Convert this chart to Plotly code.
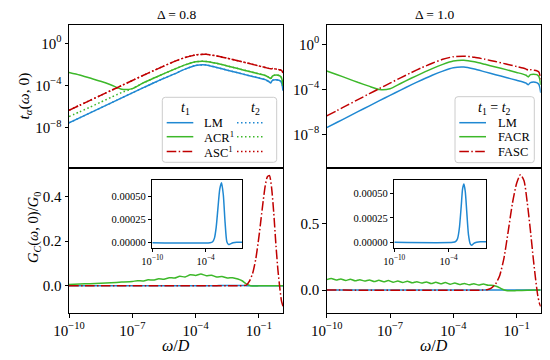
import numpy as np
import plotly.graph_objects as go

# ---------------- data (log10 omega/D on x) ----------------
# top panels: log10 t_alpha(omega,0)
LW_TOP = [-10, -9.5, -9, -8.5, -8, -7.5, -7, -6.5, -6, -5.5, -5, -4.5, -4, -3.5, -3,
          -2.5, -2, -1.5, -1, -0.7, -0.55, -0.45, -0.35, -0.2, -0.05, 0.05, 0.1, 0.14]

# Delta = 0.8
LM_T1_A = [-7.55, -7.07, -6.6, -6.12, -5.65, -5.17, -4.7, -4.23, -3.77, -3.32, -2.9, -2.45, -2.1, -2.05, -2.3,
           -2.55, -2.8, -3.05, -3.3, -3.45, -3.6, -3.75, -3.5, -3.45, -3.5, -3.65, -3.95, -4.5]
LM_T2_A = LM_T1_A
ACR_T1_A = [-2.76, -3.0, -3.3, -3.6, -3.95, -4.35, -4.3, -3.78, -3.32, -2.88, -2.45, -2.05, -1.75, -1.72, -1.9,
            -2.15, -2.4, -2.65, -2.9, -3.05, -3.2, -3.35, -3.1, -3.0, -3.05, -3.2, -3.5, -4.0]
ACR_T2_A = [-6.95, -6.5, -6.05, -5.58, -5.12, -4.66, -4.3, -3.78, -3.32, -2.88, -2.45, -2.05, -1.75, -1.72, -1.9,
            -2.15, -2.4, -2.65, -2.9, -3.05, -3.2, -3.35, -3.1, -3.0, -3.05, -3.2, -3.5, -4.0]
ASC_T1_A = [-6.35, -5.88, -5.41, -4.94, -4.47, -4.0, -3.53, -3.06, -2.6, -2.15, -1.72, -1.35, -1.1, -1.05, -1.2,
            -1.42, -1.65, -1.9, -2.15, -2.3, -2.38, -2.42, -2.4, -2.45, -2.5, -2.55, -2.65, -2.8]
ASC_T2_A = ASC_T1_A

# Delta = 1.0
LM_B = [-7.41, -6.93, -6.45, -5.97, -5.49, -5.01, -4.54, -4.07, -3.61, -3.17, -2.75, -2.38, -2.08, -2.02, -2.2,
        -2.45, -2.7, -2.95, -3.2, -3.35, -3.45, -3.6, -3.4, -3.35, -3.4, -3.55, -3.85, -4.3]
FACR_B = [-2.37, -2.7, -3.05, -3.4, -3.72, -4.02, -3.95, -3.48, -3.02, -2.58, -2.16, -1.78, -1.48, -1.41, -1.55,
          -1.78, -2.02, -2.25, -2.5, -2.65, -2.75, -2.9, -2.7, -2.65, -2.7, -2.85, -3.15, -3.6]
FASC_B = [-6.37, -5.88, -5.39, -4.9, -4.41, -3.93, -3.45, -2.98, -2.52, -2.08, -1.68, -1.33, -1.1, -1.05, -1.15,
          -1.33, -1.53, -1.75, -1.97, -2.1, -2.2, -2.3, -2.25, -2.3, -2.35, -2.45, -2.7, -3.1]

# bottom panels: G_C(omega,0)/G_0
LW_LM_GC_A = [-10, -3.5, -3.2, -3.0, -2.8, -2.6, -2.4, -2.2, -2.0, -1.8, -1.6, -1.4, -1.2, -0.9, -0.5, 0.14]
LM_GC_A = [0, 0, 0.00001, 0.00005, 0.00017, 0.00038, 0.00058, 0.00065, 0.00052, 0.00022, 0.00001, -0.00002,
           -0.000012, 0.0, 0.000006, 0.000006]
LW_ACR_GC_A = [-10, -9.5, -9, -8.5, -8, -7.5, -7, -6.75, -6.5, -6.25, -6, -5.75, -5.5, -5.25, -5, -4.75, -4.5,
               -4.25, -4, -3.75, -3.5, -3.25, -3, -2.75, -2.5, -2.25, -2, -1.8, -1.6, -1.4, -1.2, -1, -0.5, 0.14]
ACR_GC_A = [0.005, 0.007, 0.009, 0.011, 0.013, 0.016, 0.019, 0.022, 0.021, 0.026, 0.025, 0.031, 0.029, 0.036,
            0.034, 0.042, 0.039, 0.049, 0.046, 0.052, 0.045, 0.047, 0.039, 0.041, 0.034, 0.036, 0.030, 0.022,
            0.008, 0.0, -0.002, -0.001, 0.0, 0.0]
LW_ASC_GC_A = [-10, -2, -1.6, -1.45, -1.3, -1.15, -1.0, -0.9, -0.8, -0.7, -0.6, -0.5, -0.4, -0.3, -0.2, -0.1,
               0.0, 0.07, 0.14]
ASC_GC_A = [0, 0, 0.002, 0.02, 0.055, 0.12, 0.22, 0.3, 0.38, 0.45, 0.49, 0.495, 0.44, 0.33, 0.19, 0.07,
            -0.02, -0.07, -0.093]

LW_LM_GC_B = [-10, -3.5, -3.2, -3.0, -2.8, -2.6, -2.45, -2.3, -2.15, -2.0, -1.8, -1.6, -1.45, -1.2, -0.9, -0.5, 0.14]
LM_GC_B = [0, 0, 0.00001, 0.00004, 0.00015, 0.00037, 0.00055, 0.0006, 0.00052, 0.00033, 0.00008, -0.000015,
           -0.00003, -0.00001, 0.0, 0.000006, 0.000006]
LW_FACR_GC_B = [-10, -9.78, -9.55, -9.33, -9.1, -8.88, -8.65, -8.43, -8.2, -7.98, -7.75, -7.53, -7.3, -7.08,
                -6.85, -6.63, -6.4, -6.18, -5.95, -5.73, -5.5, -5.28, -5.05, -4.83, -4.6, -4.38, -4.15, -3.93,
                -3.7, -3.48, -3.25, -3.03, -2.8, -2.58, -2.35, -2.1, -1.9, -1.7, -1.5, -1.3, -1.0, -0.5, 0.14]
FACR_GC_B = [0.078, 0.086, 0.075, 0.083, 0.072, 0.081, 0.069, 0.078, 0.067, 0.076, 0.064, 0.073, 0.062, 0.071,
             0.059, 0.068, 0.057, 0.066, 0.054, 0.063, 0.052, 0.061, 0.049, 0.058, 0.047, 0.056, 0.044, 0.053,
             0.042, 0.050, 0.039, 0.048, 0.037, 0.045, 0.036, 0.035, 0.025, 0.008, -0.004, -0.006, -0.004,
             -0.001, 0.0]
LW_FASC_GC_B = [-10, -2.6, -2.4, -2.2, -2.0, -1.8, -1.6, -1.4, -1.2, -1.0, -0.82, -0.65, -0.5, -0.35, -0.2,
                -0.1, 0.0, 0.08, 0.14]
FASC_GC_B = [0, 0, 0.003, 0.015, 0.045, 0.11, 0.24, 0.44, 0.65, 0.8, 0.865, 0.82, 0.66, 0.45, 0.22, 0.08,
             -0.04, -0.1, -0.123]

TITLES = ["Δ = 0.8", "Δ = 1.0"]
XTICKS = [1e-10, 1e-7, 1e-4, 1e-1]
XTICKTEXT = ["10<sup>−10</sup>", "10<sup>−7</sup>", "10<sup>−4</sup>", "10<sup>−1</sup>"]
YTICKS_TOP = [1e-8, 1e-4, 1]
YTICKTEXT_TOP = ["10<sup>−8</sup>", "10<sup>−4</sup>", "10<sup>0</sup>"]
INSET_YTICKS = [0, 0.00025, 0.0005]
INSET_YTICKTEXT = ["0.00000", "0.00025", "0.00050"]
INSET_XTICKS = [1e-10, 1e-4]
INSET_XTICKTEXT = ["10<sup>−10</sup>", "10<sup>−4</sup>"]

# ---------------- style ----------------
BLUE = "#1f88d2"
GREEN = "#3db82a"
RED = "#c00000"
FONT = "Liberation Serif"
W, H = 550, 360
OFF = 8  # page body margin of the html page
DASHDOT = "9.6px,2.4px,1.5px,2.4px"
DOT = "1.5px,2.5px"


def px(x):
    return (x - OFF) / W


def py(y):
    return 1 - (y - OFF) / H


def X(lst):
    return [10 ** v for v in lst]


fig = go.Figure()


def add(xs, ys, color, dash="solid", xa="x", ya="y", logy=False, width=1.5):
    fig.add_trace(go.Scatter(x=X(xs), y=(X(ys) if logy else ys), mode="lines",
                             line=dict(color=color, width=width, dash=dash, shape="spline", smoothing=0.6),
                             xaxis=xa, yaxis=ya, showlegend=False, hoverinfo="skip"))


# top-left
add(LW_TOP, LM_T1_A, BLUE, "solid", "x", "y", True)
add(LW_TOP, LM_T2_A, BLUE, DOT, "x", "y", True)
add(LW_TOP, ACR_T1_A, GREEN, "solid", "x", "y", True)
add(LW_TOP, ACR_T2_A, GREEN, DOT, "x", "y", True)
add(LW_TOP, ASC_T1_A, RED, DASHDOT, "x", "y", True)
add(LW_TOP, ASC_T2_A, RED, DOT, "x", "y", True)
# top-right
add(LW_TOP, LM_B, BLUE, "solid", "x2", "y2", True)
add(LW_TOP, FACR_B, GREEN, "solid", "x2", "y2", True)
add(LW_TOP, FASC_B, RED, DASHDOT, "x2", "y2", True)
# bottom-left
add(LW_LM_GC_A, LM_GC_A, BLUE, "solid", "x3", "y3")
add(LW_ACR_GC_A, ACR_GC_A, GREEN, "solid", "x3", "y3")
add(LW_ASC_GC_A, ASC_GC_A, RED, DASHDOT, "x3", "y3")
# bottom-right
add(LW_LM_GC_B, LM_GC_B, BLUE, "solid", "x4", "y4")
add(LW_FACR_GC_B, FACR_GC_B, GREEN, "solid", "x4", "y4")
add(LW_FASC_GC_B, FASC_GC_B, RED, DASHDOT, "x4", "y4")
# insets
add(LW_LM_GC_A, LM_GC_A, BLUE, "solid", "x5", "y5")
add(LW_LM_GC_B, LM_GC_B, BLUE, "solid", "x6", "y6")

axis_common = dict(showline=True, mirror=True, linecolor="black", linewidth=1, ticks="outside",
                   ticklen=3.5, tickwidth=0.8, tickcolor="black", showgrid=False, zeroline=False,
                   automargin=False)

LX = [69, 283]
RX = [326.7, 540.7]
TOPY = [25, 168]
BOTY = [168, 313]
XR = [-10, 0.14]
TICKFS = 15

lay = dict(
    width=W, height=H, margin=dict(l=0, r=0, t=0, b=0, pad=0), autosize=False,
    paper_bgcolor="white", plot_bgcolor="white",
    font=dict(family=FONT, color="black"),
)


def xax(dom, show, anchor, tv, tt, fs=TICKFS, rng=XR):
    d = dict(axis_common)
    d.update(type="log", range=rng, domain=[px(dom[0]), px(dom[1])], anchor=anchor,
             tickvals=tv, ticktext=tt, showticklabels=show, ticks="outside" if show else "")
    d["tickfont"] = dict(family=FONT, size=fs, color="black")
    return d


def yax(dom, anchor, rng, log=False, tv=None, tt=None, fs=TICKFS):
    d = dict(axis_common)
    d.update(type="log" if log else "linear", range=rng, domain=[py(dom[1]), py(dom[0])], anchor=anchor)
    if tv is not None:
        d.update(tickvals=tv, ticktext=tt)
    d["tickfont"] = dict(family=FONT, size=fs, color="black")
    return d


lay["xaxis"] = xax(LX, False, "y", XTICKS, XTICKTEXT)
lay["yaxis"] = yax(TOPY, "x", [-11.82, 1.73], True, YTICKS_TOP, YTICKTEXT_TOP)
lay["xaxis2"] = xax(RX, False, "y2", XTICKS, XTICKTEXT)
lay["yaxis2"] = yax(TOPY, "x2", [-11.0, 1.72], True, YTICKS_TOP, YTICKTEXT_TOP)
lay["xaxis3"] = xax(LX, True, "y3", XTICKS, XTICKTEXT)
lay["yaxis3"] = yax(BOTY, "x3", [-0.123, 0.529], False, [0, 0.2, 0.4], ["0.0", "0.2", "0.4"])
lay["xaxis4"] = xax(RX, True, "y4", XTICKS, XTICKTEXT)
lay["yaxis4"] = yax(BOTY, "x4", [-0.172, 0.915], False, [0, 0.5], ["0.0", "0.5"])
INS_Y = [180, 247.7]
lay["xaxis5"] = xax([152.3, 242.3], True, "y5", INSET_XTICKS, INSET_XTICKTEXT, fs=10.5)
lay["yaxis5"] = yax(INS_Y, "x5", [-0.000054, 0.00068], False, INSET_YTICKS, INSET_YTICKTEXT, fs=10.5)
lay["xaxis6"] = xax([394.3, 486], True, "y6", INSET_XTICKS, INSET_XTICKTEXT, fs=10.5)
lay["yaxis6"] = yax(INS_Y, "x6", [-0.000055, 0.00064], False, INSET_YTICKS, INSET_YTICKTEXT, fs=10.5)
fig.update_layout(**lay)

ann = []


def text(x, y, s, size=13, xanchor="center", angle=0):
    ann.append(dict(x=px(x), y=py(y), xref="paper", yref="paper", text=s, showarrow=False,
                    xanchor=xanchor, yanchor="middle", textangle=angle,
                    font=dict(family=FONT, size=size, color="black")))


# titles and axis labels
text(176, 14, TITLES[0], 13.5)
text(434, 14, TITLES[1], 13.5)
text(24, 96.5, "<i>t</i><sub><i>α</i></sub>(<i>ω</i>, 0)", 15.5, angle=-90)
text(34, 228, "<i>G</i><sub><i>C</i></sub>(<i>ω</i>, 0)/<i>G</i><sub>0</sub>", 14.5, angle=-90)
text(176, 345, "<i>ω</i>/<i>D</i>", 16)
text(434, 345, "<i>ω</i>/<i>D</i>", 16)

shapes = []


def rbox(x0, y0, x1, y1, r=3):
    X0, X1 = px(x0), px(x1)
    Y0, Y1 = py(y0), py(y1)
    rx, ry = r / W, r / H
    path = (f"M {X0+rx},{Y0} L {X1-rx},{Y0} Q {X1},{Y0} {X1},{Y0-ry} L {X1},{Y1+ry} "
            f"Q {X1},{Y1} {X1-rx},{Y1} L {X0+rx},{Y1} Q {X0},{Y1} {X0},{Y1+ry} L {X0},{Y0-ry} "
            f"Q {X0},{Y0} {X0+rx},{Y0} Z")
    shapes.append(dict(type="path", path=path, xref="paper", yref="paper",
                       line=dict(color="#cccccc", width=1), fillcolor="rgba(255,255,255,0.85)", layer="above"))


def seg(x0, x1, y, color, dash):
    shapes.append(dict(type="line", xref="paper", yref="paper", x0=px(x0), x1=px(x1), y0=py(y), y1=py(y),
                       line=dict(color=color, width=1.5, dash=dash), layer="above"))


ROWS = [122.7, 136.7, 151.5]
# left legend
rbox(162.3, 97.3, 276.7, 162.3)
text(185, 108.3, "<i>t</i><sub>1</sub>", 14)
text(255, 108.3, "<i>t</i><sub>2</sub>", 14)
for yy, c, d, lab in zip(ROWS, [BLUE, GREEN, RED], ["solid", "solid", DASHDOT], ["LM", "ACR<sup>1</sup>", "ASC<sup>1</sup>"]):
    seg(166.7, 193.3, yy, c, d)
    seg(237, 263.3, yy, c, DOT)
    text(202, yy, lab, 12.5, xanchor="left")
# right legend
rbox(455, 96.7, 534.3, 162.7)
text(494.3, 108.3, "<i>t</i><sub>1</sub> = <i>t</i><sub>2</sub>", 14)
for yy, c, d, lab in zip(ROWS, [BLUE, GREEN, RED], ["solid", "solid", DASHDOT], ["LM", "FACR", "FASC"]):
    seg(459.3, 486, yy, c, d)
    text(496, yy, lab, 12.5, xanchor="left")

fig.update_layout(annotations=ann, shapes=shapes)
fig.write_html("out.html")
